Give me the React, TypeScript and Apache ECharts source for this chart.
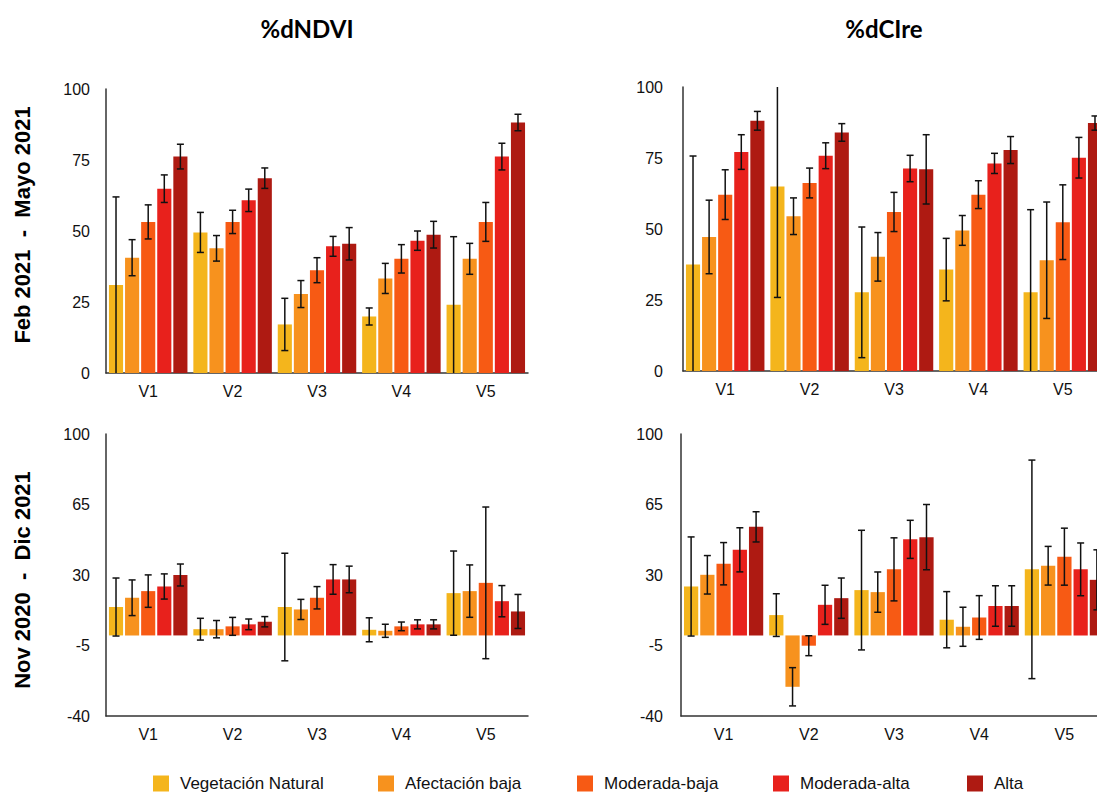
import React, { useEffect, useRef } from "react";
import * as echarts from "echarts";

const categories = ["V1", "V2", "V3", "V4", "V5"];
const seriesNames = ["Vegetación Natural", "Afectación baja", "Moderada-baja", "Moderada-alta", "Alta"];
const colors = ["#F4B51C", "#F7921E", "#F75A14", "#E8211C", "#AE1A12"];

const panelTitles = ["%dNDVI", "%dCIre"];
const rowLabels = ["Feb 2021  -  Mayo 2021", "Nov 2020  -  Dic 2021"];

const topTicks = [0, 25, 50, 75, 100];
const bottomTicks = [-40, -5, 30, 65, 100];

// %dNDVI, Feb 2021 - Mayo 2021
const ndviFebMayValues = [
  [31, 49.5, 17.1, 19.9, 24],
  [40.6, 43.9, 27.8, 33.3, 40.2],
  [53.2, 53.2, 36.2, 40.2, 53.2],
  [64.9, 60.8, 44.6, 46.6, 76.2],
  [76.2, 68.6, 45.5, 48.7, 88.2],
];
const ndviFebMayErr = [
  [31, 7.05, 9.2, 3, 24],
  [6.35, 4.5, 4.75, 5.3, 5.45],
  [6, 4.1, 4.4, 5, 6.85],
  [4.85, 3.95, 3.5, 3.4, 4.7],
  [4.35, 3.6, 5.7, 4.7, 2.9],
];

// %dCIre, Feb 2021 - Mayo 2021
const cireFebMayValues = [
  [37.5, 65, 27.7, 35.7, 27.7],
  [47.2, 54.5, 40.2, 49.5, 39],
  [62.1, 66.2, 56, 62.1, 52.4],
  [77.1, 75.8, 71.3, 73.1, 75.1],
  [88.1, 84, 71, 77.8, 87.3],
];
const cireFebMayErr = [
  [38.2, 39.1, 23, 11, 29.1],
  [12.95, 6.45, 8.55, 5.25, 20.5],
  [8.75, 5.25, 6.9, 4.9, 13.15],
  [6.1, 4.55, 4.65, 3.55, 7.15],
  [3.3, 3.1, 12.2, 4.75, 2.5],
];

// %dNDVI, Nov 2020 - Dic 2021
const ndviNovDicValues = [
  [14.1, 3.1, 14.1, 2.8, 21],
  [18.7, 3.1, 12.9, 2.3, 22],
  [22, 4.5, 18.7, 4.5, 26.1],
  [24.3, 5.5, 27.8, 5.5, 17],
  [30, 6.8, 27.8, 5.5, 11.9],
];
const ndviNovDicErr = [
  [14.4, 5.4, 26.7, 5.95, 20.9],
  [8.85, 4.3, 5, 3.25, 13],
  [8.05, 4.45, 5.55, 2.15, 37.65],
  [6.25, 2.65, 7.35, 2.25, 7.75],
  [5.45, 2.55, 6.6, 2.25, 8.45],
];

// %dCIre, Nov 2020 - Dic 2021
const cireNovDicValues = [
  [24.3, 10.1, 22.5, 7.8, 32.8],
  [30.1, -25.5, 21.5, 4.3, 34.6],
  [35.6, -5.1, 32.8, 8.9, 39.1],
  [42.5, 15.2, 47.7, 14.6, 32.8],
  [53.9, 18.5, 48.8, 14.6, 27.6],
];
const cireNovDicErr = [
  [24.6, 10.6, 29.7, 13.95, 54.25],
  [9.55, 9.5, 10, 9.7, 9.6],
  [10.5, 4.95, 15.65, 10.85, 14.15],
  [10.95, 9.7, 9.45, 10.05, 13.1],
  [7.5, 10, 16.2, 10.05, 14.9],
];

const FONT = "'Liberation Sans', Arial, Helvetica, sans-serif";
const CAT_GAP = 0.07;
const BAR_GAP = 0.14;

// chart canvas is slightly wider than the visible page so the right panels run off the edge, as in the reference
const CANVAS_W = 1112;

const panels = [
  { values: ndviFebMayValues, err: ndviFebMayErr, ticks: topTicks, grid: { left: 106, top: 89, width: 422, height: 284 }, labelMargin: 16 },
  { values: cireFebMayValues, err: cireFebMayErr, ticks: topTicks, grid: { left: 683, top: 87, width: 422, height: 284 }, labelMargin: 20 },
  { values: ndviNovDicValues, err: ndviNovDicErr, ticks: bottomTicks, grid: { left: 106, top: 434, width: 422, height: 282 }, labelMargin: 16 },
  { values: cireNovDicValues, err: cireNovDicErr, ticks: bottomTicks, grid: { left: 681, top: 434, width: 426, height: 282 }, labelMargin: 18 },
];

const legendLeft = [153, 378, 577, 773, 967];

function buildOption() {
  const grid: any[] = [];
  const xAxis: any[] = [];
  const yAxis: any[] = [];
  const barSeries: any[] = [];
  const errSeries: any[] = [];
  const n = seriesNames.length;

  panels.forEach((p, pi) => {
    grid.push({ ...p.grid, containLabel: false });
    xAxis.push({
      type: "category",
      gridIndex: pi,
      data: categories,
      axisLine: { onZero: false, lineStyle: { color: "#333", width: 1.5 } },
      axisTick: { show: false },
      axisLabel: { color: "#111", fontSize: 16, fontFamily: FONT, margin: 10 },
      splitLine: { show: false },
    });
    const tmin = p.ticks[0];
    const tmax = p.ticks[p.ticks.length - 1];
    yAxis.push({
      type: "value",
      gridIndex: pi,
      min: tmin,
      max: tmax,
      interval: p.ticks[1] - p.ticks[0],
      axisLine: { show: true, lineStyle: { color: "#333", width: 1.5 } },
      axisTick: { show: false },
      splitLine: { show: false },
      axisLabel: { color: "#111", fontSize: 16, fontFamily: FONT, margin: p.labelMargin },
    });

    for (let si = 0; si < n; si++) {
      barSeries.push({
        type: "bar",
        name: seriesNames[si],
        xAxisIndex: pi,
        yAxisIndex: pi,
        data: p.values[si],
        barCategoryGap: CAT_GAP * 100 + "%",
        barGap: BAR_GAP * 100 + "%",
        itemStyle: { color: colors[si] },
        emphasis: { disabled: true },
      });
      errSeries.push({
        type: "custom",
        name: seriesNames[si],
        xAxisIndex: pi,
        yAxisIndex: pi,
        z: 5,
        itemStyle: { color: colors[si] },
        data: p.values[si].map((v, ci) => [ci, v, p.err[si][ci]]),
        renderItem: (params: any, api: any) => {
          const ci = api.value(0);
          const v = api.value(1);
          const e = api.value(2);
          let lo = v - e;
          let hi = v + e;
          const loClip = lo <= tmin;
          const hiClip = hi >= tmax;
          lo = Math.max(lo, tmin);
          hi = Math.min(hi, tmax);
          const band = api.size([1, 0])[0];
          const remained = band * (1 - CAT_GAP);
          const w = remained / (n + (n - 1) * BAR_GAP);
          const total = n * w + (n - 1) * w * BAR_GAP;
          const cx = api.coord([ci, 0])[0] - total / 2 + si * w * (1 + BAR_GAP) + w / 2;
          const yLo = api.coord([ci, lo])[1];
          const yHi = api.coord([ci, hi])[1];
          const cap = 3.5;
          const style = { stroke: "#111", lineWidth: 1.5 };
          const children: any[] = [
            { type: "line", shape: { x1: cx, y1: yLo, x2: cx, y2: yHi }, style },
          ];
          if (!hiClip) children.push({ type: "line", shape: { x1: cx - cap, y1: yHi, x2: cx + cap, y2: yHi }, style });
          if (!loClip) children.push({ type: "line", shape: { x1: cx - cap, y1: yLo, x2: cx + cap, y2: yLo }, style });
          return { type: "group", children };
        },
      });
    }
  });

  const legend = seriesNames.map((name, i) => ({
    data: [name],
    left: legendLeft[i],
    top: 775,
    padding: 0,
    itemWidth: 16,
    itemHeight: 16,
    icon: "rect",
    textStyle: { fontSize: 17, color: "#111", fontFamily: FONT, padding: [0, 0, 0, 6] },
  }));

  const titleStyle = { fontSize: 24, fontWeight: "bold", fontFamily: "Lato, 'Open Sans', sans-serif", fill: "#000", align: "center", verticalAlign: "middle" };
  const rowStyle = { fontSize: 22, fontWeight: "bold", fontFamily: FONT, fill: "#000", align: "center", verticalAlign: "middle" };
  const graphic: any[] = [
    { type: "text", x: 307, y: 28, style: { ...titleStyle, text: panelTitles[0] } },
    { type: "text", x: 884, y: 28, style: { ...titleStyle, text: panelTitles[1] } },
    { type: "text", x: 22, y: 225, rotation: Math.PI / 2, style: { ...rowStyle, text: rowLabels[0] } },
    { type: "text", x: 22, y: 580, rotation: Math.PI / 2, style: { ...rowStyle, text: rowLabels[1] } },
  ];

  return {
    animation: false,
    backgroundColor: "#ffffff",
    textStyle: { fontFamily: FONT },
    grid,
    xAxis,
    yAxis,
    legend,
    graphic,
    series: [...barSeries, ...errSeries],
  };
}

export default function App() {
  const ref = useRef<HTMLDivElement>(null);
  useEffect(() => {
    if (!ref.current) return;
    const chart = echarts.init(ref.current, undefined, { renderer: "svg" });
    chart.setOption(buildOption() as any);
    return () => chart.dispose();
  }, []);
  return (
    <div style={{ position: "absolute", left: 0, top: 0, width: 1097, height: 794, overflow: "hidden", background: "#fff" }}>
      <div ref={ref} style={{ width: CANVAS_W, height: 794 }} />
    </div>
  );
}
